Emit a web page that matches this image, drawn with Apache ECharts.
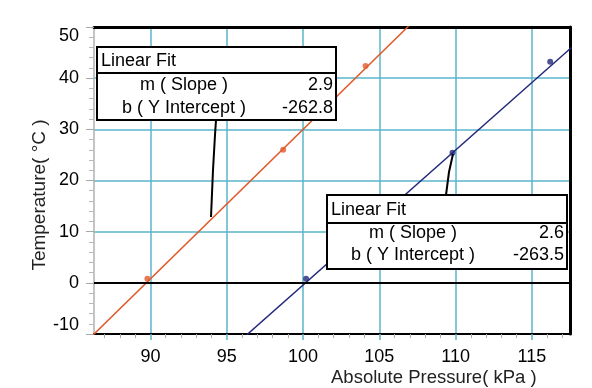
<!DOCTYPE html>
<html>
<head>
<meta charset="utf-8">
<script src="https://cdn.jsdelivr.net/npm/echarts@6/dist/echarts.min.js"></script>
<style>html,body{margin:0;padding:0;background:#fff;}#c{width:592px;height:388px;}</style>
</head>
<body>
<div id="c"></div>
<script>
// ---- data ----
const redPoints = [[89.8, 0.8], [98.7, 26.0], [104.1, 42.4]];
const bluePoints = [[100.2, 0.8], [109.8, 25.4], [116.2, 43.2]];
const redFitLine = [[86.0, -10.9], [107.2, 51.0]];
const blueFitLine = [[96.3, -10.2], [117.6, 46.0]];
const xTickLabels = [90, 95, 100, 105, 110, 115];
const xMinorTicks = [87,88,89,91,92,93,94,96,97,98,99,101,102,103,104,106,107,108,109,111,112,113,114,116,117];
const yTickLabels = [-10, 0, 10, 20, 30, 40, 50];
const fit1 = {title: 'Linear Fit', mLabel: 'm ( Slope )', bLabel: 'b ( Y Intercept )', m: '2.9', b: '-262.8'};
const fit2 = {title: 'Linear Fit', mLabel: 'm ( Slope )', bLabel: 'b ( Y Intercept )', m: '2.6', b: '-263.5'};
const xName = 'Absolute Pressure( kPa )';
const yName = 'Temperature( °C )';

const X_MIN = 86.3, X_MAX = 117.5, Y_MIN = -10, Y_MAX = 50;
const GRID = '#5ab4cc';
const RED = '#e05a2c';
const BLUE = '#22287a';
const FONT = '"Liberation Sans", Arial, sans-serif';

function fitBox(f, x, y, w, h, sepY, rowM, rowB, labelCX) {
  const Z = 100;
  return [
    {type: 'rect', z: Z, shape: {x: x, y: y, width: w, height: h}, style: {fill: '#fff', stroke: '#000', lineWidth: 2}},
    {type: 'line', z: Z + 1, shape: {x1: x, y1: sepY, x2: x + w, y2: sepY}, style: {stroke: '#000', lineWidth: 2}},
    {type: 'text', z: Z + 1, x: x + 4, y: (y + sepY) / 2 + 1, style: {text: f.title, font: '18px ' + FONT, fill: '#000', verticalAlign: 'middle', align: 'left'}},
    {type: 'text', z: Z + 1, x: labelCX, y: rowM, style: {text: f.mLabel, font: '18px ' + FONT, fill: '#000', verticalAlign: 'middle', align: 'center'}},
    {type: 'text', z: Z + 1, x: labelCX, y: rowB, style: {text: f.bLabel, font: '18px ' + FONT, fill: '#000', verticalAlign: 'middle', align: 'center'}},
    {type: 'text', z: Z + 1, x: x + w - 3, y: rowM, style: {text: f.m, font: '18px ' + FONT, fill: '#000', verticalAlign: 'middle', align: 'right'}},
    {type: 'text', z: Z + 1, x: x + w - 3, y: rowB, style: {text: f.b, font: '18px ' + FONT, fill: '#000', verticalAlign: 'middle', align: 'right'}}
  ];
}

const chart = echarts.init(document.getElementById('c'), null, {renderer: 'canvas'});
const option = {
  animation: false,
  backgroundColor: '#fff',
  grid: {left: 94, top: 27, right: 22, bottom: 54},
  xAxis: [
    {
      type: 'value', min: X_MIN, max: X_MAX, position: 'bottom',
      axisLine: {show: true, onZero: false, lineStyle: {color: '#000', width: 2}},
      axisTick: {show: true, customValues: xTickLabels, length: 6, lineStyle: {color: GRID, width: 1.5}},
      axisLabel: {customValues: xTickLabels, fontSize: 18, fontFamily: FONT, color: '#000', margin: 14},
      splitLine: {show: true, lineStyle: {color: GRID, width: 1.5}},
      minorTick: {show: false}
    },
    {
      type: 'value', min: X_MIN, max: X_MAX, position: 'bottom',
      axisLine: {show: false, onZero: false},
      axisTick: {show: true, customValues: xMinorTicks, length: 4, lineStyle: {color: '#aaa', width: 1}},
      axisLabel: {show: false},
      splitLine: {show: false}
    },
    {
      type: 'value', min: X_MIN, max: X_MAX, position: 'top',
      axisLine: {show: true, onZero: false, lineStyle: {color: '#000', width: 3}},
      axisTick: {show: false}, axisLabel: {show: false}, splitLine: {show: false}
    }
  ],
  yAxis: [
    {
      type: 'value', min: Y_MIN, max: Y_MAX, interval: 10, position: 'left',
      axisLine: {show: true, onZero: false, lineStyle: {color: '#b0b0b0', width: 1.5}},
      axisTick: {show: true, length: 8, lineStyle: {color: '#a8a8a8', width: 1}},
      minorTick: {show: true, splitNumber: 5, length: 5, lineStyle: {color: '#b8b8b8', width: 1}},
      axisLabel: {fontSize: 18, fontFamily: FONT, color: '#000', margin: 15,
        verticalAlignMinLabel: 'bottom', verticalAlignMaxLabel: 'top'},
      splitLine: {show: true, lineStyle: {color: GRID, width: 1.5}}
    },
    {
      type: 'value', min: Y_MIN, max: Y_MAX, interval: 10, position: 'right',
      axisLine: {show: true, onZero: false, lineStyle: {color: '#000', width: 3}},
      axisTick: {show: false}, axisLabel: {show: false}, splitLine: {show: false}
    }
  ],
  series: [
    {
      type: 'line', data: redFitLine, symbol: 'none', clip: true,
      lineStyle: {color: RED, width: 1.5}, z: 3,
      markLine: {silent: true, symbol: ['none', 'none'], label: {show: false},
        lineStyle: {color: '#000', width: 2, type: 'solid'}, data: [{yAxis: 0}]}
    },
    {type: 'line', data: blueFitLine, symbol: 'none', clip: true, lineStyle: {color: BLUE, width: 1.5}, z: 3},
    {type: 'scatter', data: redPoints, symbol: 'circle', symbolSize: 6, itemStyle: {color: RED}, z: 4},
    {type: 'scatter', data: bluePoints, symbol: 'circle', symbolSize: 6, itemStyle: {color: BLUE}, z: 4}
  ],
  graphic: [
    {type: 'polyline', z: 99, shape: {points: [[216, 120], [215, 135], [213, 170], [211, 217]]}, style: {stroke: '#000', lineWidth: 2, fill: null}},
    {type: 'polyline', z: 99, shape: {points: [[446, 195], [449, 172], [453, 154]]}, style: {stroke: '#000', lineWidth: 2, fill: null}}
  ].concat(
    fitBox(fit1, 97, 47, 239, 73, 73, 85, 108, 184),
    fitBox(fit2, 327, 195, 240, 74, 223, 233, 255, 413),
    [
      {type: 'text', x: 331, y: 378, style: {text: xName, font: '18.5px ' + FONT, fill: '#222', verticalAlign: 'middle', align: 'left'}},
      {type: 'text', x: 40, y: 195, rotation: Math.PI / 2, style: {text: yName, font: '19px ' + FONT, fill: '#222', verticalAlign: 'middle', align: 'center'}}
    ]
  )
};
chart.setOption(option);
</script>
</body>
</html>
